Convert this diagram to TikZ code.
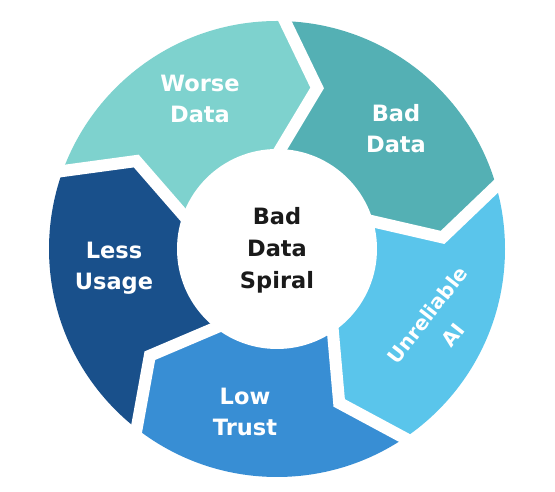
\documentclass[tikz,border=0pt]{standalone}
\usepackage{fontspec}
\setmainfont{DejaVu Sans}
\usetikzlibrary{calc}
\definecolor{cworse}{HTML}{7ED2CE}
\definecolor{cbad}{HTML}{54B0B4}
\definecolor{cunrel}{HTML}{5AC5EB}
\definecolor{clow}{HTML}{388ED4}
\definecolor{cless}{HTML}{19508B}
\definecolor{ctext}{HTML}{1A1A1A}
\begin{document}
\begin{tikzpicture}[x=1pt,y=1pt,
  lbl/.style={text=white, font=\fontsize{22.5}{31}\selectfont\bfseries, align=center, inner sep=0pt},
  ctr/.style={text=ctext, font=\fontsize{22.5}{32}\selectfont\bfseries, align=center, inner sep=0pt},
  gap/.style={white, line width=12pt, line join=miter}]
\useasboundingbox (0,0) rectangle (555,492);
\coordinate (C) at (277,243);
\foreach \k/\b in {0/88, 1/16, 2/-56, 3/-128, 4/-200}{
  \coordinate (T\k) at ($(C)+(\b-12:166)$);
  \coordinate (O\k) at ($(C)+(\b:228)$);
  \coordinate (I\k) at ($(C)+(\b:100)$);
  \coordinate (OX\k) at ($(T\k)!1.5!(O\k)$);
  \coordinate (IX\k) at ($(T\k)!1.6!(I\k)$);
  \coordinate (F\k) at ($(C)+(\b:420)$);
  \coordinate (M\k) at ($(C)+(\b-36:420)$);
}
\begin{scope}
  \clip (C) circle (228);
  \fill[cbad]   (OX0) -- (T0) -- (IX0) -- (C) -- (IX1) -- (T1) -- (OX1) -- (F1) -- (M0) -- (F0) -- cycle;
  \fill[cunrel] (OX1) -- (T1) -- (IX1) -- (C) -- (IX2) -- (T2) -- (OX2) -- (F2) -- (M1) -- (F1) -- cycle;
  \fill[clow]   (OX2) -- (T2) -- (IX2) -- (C) -- (IX3) -- (T3) -- (OX3) -- (F3) -- (M2) -- (F2) -- cycle;
  \fill[cless]  (OX3) -- (T3) -- (IX3) -- (C) -- (IX4) -- (T4) -- (OX4) -- (F4) -- (M3) -- (F3) -- cycle;
  \fill[cworse] (OX4) -- (T4) -- (IX4) -- (C) -- (IX0) -- (T0) -- (OX0) -- (F0) -- (M4) -- (F4) -- cycle;
\end{scope}
\foreach \k in {0,...,4}{
  \draw[gap] (OX\k) -- (T\k) -- (IX\k);
}
\fill[white] (C) circle (100);
\node[lbl] (worse) at (200,393) {Worse\\Data};
\node[lbl] (bad) at (396,363) {Bad\\Data};
\node[lbl, rotate=52, font=\fontsize{20}{33}\selectfont\bfseries] (unrel) at (440,167) {Unreliable\\AI};
\node[lbl] (low) at (245,80) {Low\\Trust};
\node[lbl] (less) at (114,224) {Less\\Usage};
\node[ctr] (spiral) at (277,242) {Bad\\Data\\Spiral};
\end{tikzpicture}
\end{document}
